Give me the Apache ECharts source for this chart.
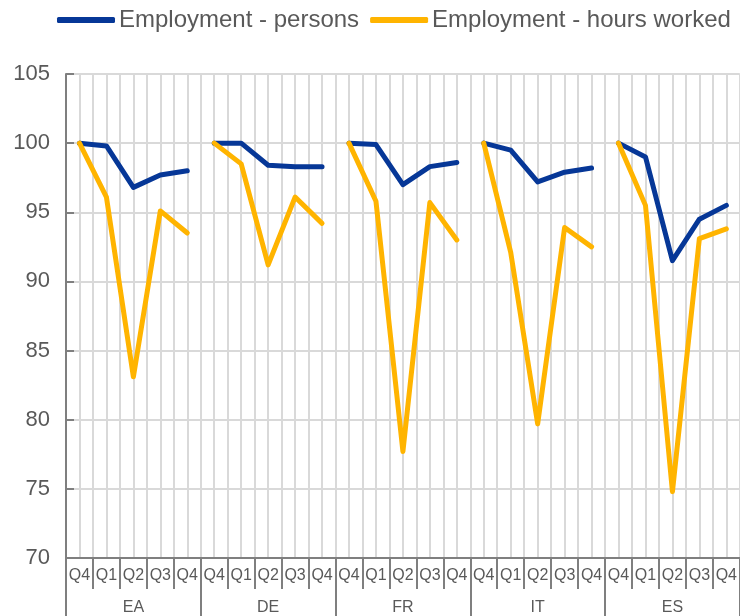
<!DOCTYPE html>
<html>
<head>
<meta charset="utf-8">
<script src="https://cdn.jsdelivr.net/npm/echarts@6/dist/echarts.min.js"></script>
<style>
  html, body { margin: 0; padding: 0; background: #fff; }
  #main { width: 740px; height: 616px; }
</style>
</head>
<body>
<div id="main"></div>
<script>
// groups and quarters
var groups = ['EA', 'DE', 'FR', 'IT', 'ES']
var quarters = ['Q4', 'Q1', 'Q2', 'Q3', 'Q4']
var yTicks = [70, 75, 80, 85, 90, 95, 100, 105]

// Employment - persons (index, Q4 2019 = 100)
var personsEA = [100, 99.8, 96.8, 97.7, 98.0]
var personsDE = [100, 100, 98.4, 98.3, 98.3]
var personsFR = [100, 99.9, 97.0, 98.3, 98.6]
var personsIT = [100, 99.5, 97.2, 97.9, 98.2]
var personsES = [100, 99.0, 91.5, 94.5, 95.5]

// Employment - hours worked
var hoursEA = [100, 96.1, 83.1, 95.1, 93.5]
var hoursDE = [100, 98.5, 91.2, 96.1, 94.2]
var hoursFR = [100, 95.8, 77.7, 95.7, 93.0]
var hoursIT = [100, 92.1, 79.7, 93.9, 92.5]
var hoursES = [100, 95.5, 74.8, 93.1, 93.8]

var persons = [personsEA, personsDE, personsFR, personsIT, personsES]
var hours = [hoursEA, hoursDE, hoursFR, hoursIT, hoursES]

var nameP = 'Employment - persons'
var nameH = 'Employment - hours worked'
var blue = '#063797'
var yellow = '#ffb400'
var textCol = '#595959'
var font = "'Liberation Sans', Arial, sans-serif"

// category list: quarters repeated per group
var cats = []
for (var g = 0; g < groups.length; g++) {
    for (var q = 0; q < quarters.length; q++) {
        cats.push(quarters[q])
    }
}

// one series per group so the line breaks between groups
var makeSeries = function(name, color, arr) {
    var out = []
    for (var g = 0; g < arr.length; g++) {
        var d = []
        for (var i = 0; i < cats.length; i++) d.push(null)
        for (var j = 0; j < arr[g].length; j++) d[g * quarters.length + j] = arr[g][j]
        out.push({
            name: name,
            type: 'line',
            xAxisIndex: 0,
            data: d,
            symbol: 'none',
            connectNulls: false,
            color: color,
            lineStyle: { width: 5, color: color, cap: 'round', join: 'round' },
            silent: true
        })
    }
    return out
}

var series = makeSeries(nameP, blue, persons).concat(makeSeries(nameH, yellow, hours))

var chart = echarts.init(document.getElementById('main'))
chart.setOption({
    animation: false,
    legend: {
        data: [nameP, nameH],
        top: 3,
        left: 52,
        icon: 'roundRect',
        itemWidth: 58,
        itemHeight: 6,
        itemGap: 11,
        textStyle: { fontFamily: font, fontSize: 24, color: textCol, padding: [0, 0, 0, -1] }
    },
    grid: { left: 66, right: 0, top: 74, bottom: 57 },
    xAxis: [
        {
            type: 'category',
            data: cats,
            position: 'bottom',
            boundaryGap: true,
            axisLine: { lineStyle: { color: '#7f7f7f', width: 2 } },
            axisTick: { show: true, interval: 0, length: 31, lineStyle: { color: '#7f7f7f', width: 2 } },
            axisLabel: { interval: 0, margin: 10, fontFamily: font, fontSize: 16, color: textCol },
            splitLine: { show: false }
        },
        {
            type: 'category',
            data: groups,
            position: 'bottom',
            offset: 0,
            boundaryGap: true,
            axisLine: { show: false },
            axisTick: { show: true, interval: 0, length: 60, lineStyle: { color: '#7f7f7f', width: 2 } },
            axisLabel: { interval: 0, margin: 42, fontFamily: font, fontSize: 16, color: textCol },
            splitLine: { show: false }
        },
        {
            // half-category grid lines
            type: 'value',
            position: 'top',
            min: 0,
            max: cats.length * 2,
            interval: 1,
            axisLine: { show: false },
            axisTick: { show: false },
            axisLabel: { show: false },
            splitLine: { show: true, lineStyle: { color: '#d9d9d9', width: 2 } }
        }
    ],
    yAxis: {
        type: 'value',
        min: yTicks[0],
        max: yTicks[yTicks.length - 1],
        interval: 5,
        axisLine: { show: true, lineStyle: { color: '#7f7f7f', width: 2 } },
        axisTick: { show: true, inside: true, length: 8, lineStyle: { color: '#7f7f7f', width: 2 } },
        axisLabel: { margin: 16, fontFamily: font, fontSize: 22, color: textCol },
        splitLine: { show: true, lineStyle: { color: '#d9d9d9', width: 2 } }
    },
    series: series
})
</script>
</body>
</html>
